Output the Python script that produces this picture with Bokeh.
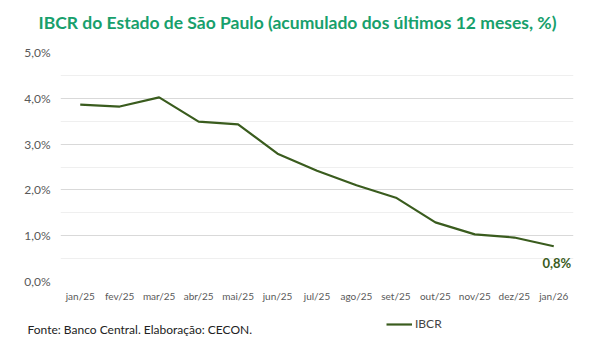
from bokeh.plotting import figure
from bokeh.layouts import column
from bokeh.models import (ColumnDataSource, CustomJSTickFormatter, Legend, LegendItem,
                          FixedTicker, Range1d, Label)
from bokeh.core.properties import value
from bokeh.embed import file_html
from bokeh.resources import INLINE

months = ["jan/25", "fev/25", "mar/25", "abr/25", "mai/25", "jun/25", "jul/25",
          "ago/25", "set/25", "out/25", "nov/25", "dez/25", "jan/26"]
ibcr = [3.86, 3.82, 4.02, 3.49, 3.43, 2.79, 2.42, 2.10, 1.83, 1.29, 1.03, 0.96, 0.77]
y_ticks = [0, 1, 2, 3, 4, 5]
y_minor = [0.5, 1.5, 2.5, 3.5, 4.5]
title_text = "IBCR do Estado de São Paulo (acumulado dos últimos 12 meses, %)"
source_text = "Fonte: Banco Central. Elaboração: CECON."
series_name = "IBCR"

LINE_COLOR = "#3a5c1e"


def blank(height, **kw):
    fig = figure(width=604, height=height, output_backend="svg", toolbar_location=None,
                 min_border=0, x_axis_type=None, y_axis_type=None, frame_align=False, **kw)
    fig.outline_line_color = None
    fig.xgrid.grid_line_color = None
    fig.ygrid.grid_line_color = None
    return fig


# header with title
h = blank(40)
h.add_layout(Label(x=297, y=18, x_units="screen", y_units="screen", text=title_text,
                   text_font="Lato", text_font_style="bold", text_font_size="17.5px",
                   text_color="#17a06c", text_align="center", text_baseline="middle"))

# main chart
p = figure(width=604, height=270, x_range=months, y_range=Range1d(0, 5),
           output_backend="svg", toolbar_location=None,
           min_border_left=60, min_border_right=31, min_border_top=12, min_border_bottom=29)
p.outline_line_color = None

src = ColumnDataSource(dict(x=months, y=ibcr))
p.line("x", "y", source=src, line_color=LINE_COLOR, line_width=2.2)

last_label = f"{ibcr[-1]:.1f}".replace(".", ",") + "%"
p.text(x=[months[-1]], y=[ibcr[-1]], text=[last_label], text_font=value("Lato"),
       text_font_style="bold", text_font_size="13px", text_color=LINE_COLOR,
       text_align="center", text_baseline="middle", x_offset=3, y_offset=17)

p.yaxis.ticker = FixedTicker(ticks=y_ticks, minor_ticks=y_minor)
p.yaxis.formatter = CustomJSTickFormatter(code="return tick.toFixed(1).replace('.', ',') + '%';")
for ax in (p.xaxis, p.yaxis):
    ax.axis_line_color = None
    ax.major_tick_line_color = None
    ax.minor_tick_line_color = None
    ax.major_label_text_font = "Lato"
    ax.major_label_text_color = "#595959"
p.yaxis.major_label_text_font_size = "12px"
p.xaxis.major_label_text_font_size = "10px"
p.yaxis.major_label_standoff = 4
p.xaxis.major_label_standoff = 2

p.xgrid.grid_line_color = None
p.ygrid.grid_line_color = "#d9d9d9"
p.ygrid.minor_grid_line_color = "#efefef"

# footer: source note + legend (legend line kept out of view)
f = blank(43, x_range=months, y_range=Range1d(-2, -1))
leg_r = f.line("x", "y", source=src, line_color=LINE_COLOR, line_width=2.2)

f.add_layout(Label(x=27, y=24, x_units="screen", y_units="screen", text=source_text,
                   text_font="Lato", text_font_size="12px", text_color="#222222",
                   text_baseline="middle"))
legend = Legend(items=[LegendItem(label=series_name, renderers=[leg_r])],
                location=(386, 22), orientation="horizontal",
                background_fill_alpha=0, border_line_color=None,
                label_text_font="Lato", label_text_font_size="12px",
                label_text_color="#444444", glyph_width=26, glyph_height=12,
                label_standoff=3, padding=0, margin=0)
f.add_layout(legend, "center")

layout = column(h, p, f, spacing=0)
open("out.html", "w").write(file_html(layout, INLINE))
